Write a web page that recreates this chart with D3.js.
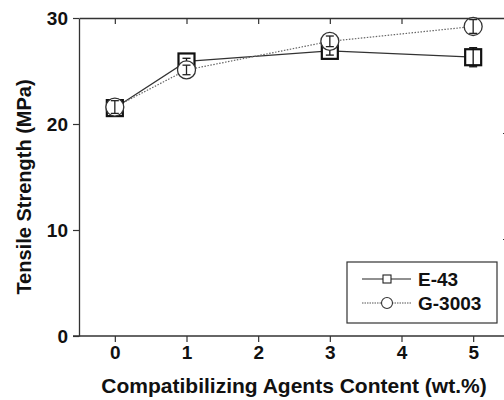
<!DOCTYPE html>
<html>
<head>
<meta charset="utf-8">
<script src="https://cdn.jsdelivr.net/npm/d3@7"></script>
<style>
body{margin:0;background:#fff}
svg text{font-family:"Liberation Sans",Arial,sans-serif;font-weight:bold;fill:#111}
</style>
</head>
<body>
<div id="chart"></div>
<script>
(function(){

// data
var xTicks = [0,1,2,3,4,5]
var yTicks = [0,10,20,30]
var xVals  = [0,1,3,5]
var e43    = [21.5,25.9,26.9,26.3]
var e43Err = [0.7,0.3,0.4,0.9]
var g3003  = [21.6,25.1,27.8,29.2]
var g3003Err = [0.6,0.45,0.5,0.65]
var seriesNames = ["E-43","G-3003"]

var W = 504, H = 400
var svg = d3.select("#chart").append("svg")
	.attr("width",W).attr("height",H)

var x = d3.scaleLinear().domain([-0.5,5.5]).range([79,509])
var y = d3.scaleLinear().domain([0,30]).range([336,18])

var axcol = "#333"
var fmt = d3.format("d")

// bottom axis
var gx = svg.append("g").attr("transform","translate(0,"+y(0)+")")
	.call(d3.axisBottom(x).tickValues(xTicks).tickSize(6).tickSizeOuter(0).tickPadding(4).tickFormat(fmt))
gx.select(".domain").attr("d","M73,0H"+x(5.5))
gx.selectAll("text").style("font-size","19px")

// top axis, ticks inward
var gt = svg.append("g").attr("transform","translate(0,"+y(30)+")")
	.call(d3.axisBottom(x).tickValues(xTicks).tickSize(6).tickSizeOuter(0).tickFormat(""))

// left axis
var gy = svg.append("g").attr("transform","translate("+x(-0.5)+",0)")
	.call(d3.axisLeft(y).tickValues(yTicks).tickSize(6).tickSizeOuter(0).tickPadding(5).tickFormat(fmt))
gy.selectAll("text").style("font-size","19px")

// right axis (scan is a bit skewed, ticks sit slightly lower)
var gr = svg.append("g").attr("transform","translate("+x(5.5)+",9)")
	.call(d3.axisRight(y).tickValues([10,20]).tickSize(-6).tickSizeOuter(0).tickFormat(""))
gr.select(".domain").remove()

svg.selectAll(".domain").attr("stroke",axcol).attr("stroke-width",1.3)
svg.selectAll(".tick line").attr("stroke",axcol).attr("stroke-width",1.2)

// axis titles
svg.append("text").attr("x",294).attr("y",393)
	.attr("text-anchor","middle").style("font-size","21px")
	.text("Compatibilizing Agents Content (wt.%)")

svg.append("text").attr("transform","translate(31,187) rotate(-90)")
	.attr("text-anchor","middle").style("font-size","20px")
	.text("Tensile Strength (MPa)")

// lines
var line = d3.line().x(function(d){return x(d[0])}).y(function(d){return y(d[1])})
var e43pts = xVals.map(function(v,i){return [v,e43[i],e43Err[i]]})
var g3003pts = xVals.map(function(v,i){return [v,g3003[i],g3003Err[i]]})

svg.append("path").datum(e43pts).attr("d",line)
	.attr("fill","none").attr("stroke","#333").attr("stroke-width",1.2)
svg.append("path").datum(g3003pts).attr("d",line)
	.attr("fill","none").attr("stroke","#666").attr("stroke-width",1.2)
	.attr("stroke-dasharray","1.5,1.5")

function errbars(pts,col){
	var g = svg.append("g").attr("stroke",col).attr("stroke-width",1.3)
	pts.forEach(function(d){
		var cx = x(d[0])
		g.append("line").attr("x1",cx).attr("x2",cx).attr("y1",y(d[1]-d[2])).attr("y2",y(d[1]+d[2]))
		g.append("line").attr("x1",cx-4).attr("x2",cx+4).attr("y1",y(d[1]-d[2])).attr("y2",y(d[1]-d[2]))
		g.append("line").attr("x1",cx-4).attr("x2",cx+4).attr("y1",y(d[1]+d[2])).attr("y2",y(d[1]+d[2]))
	})
}

// squares
svg.selectAll(".sq").data(e43pts).enter().append("rect").attr("class","sq")
	.attr("x",function(d){return x(d[0])-8}).attr("y",function(d){return y(d[1])-8})
	.attr("width",16).attr("height",16)
	.attr("fill","#fff").attr("stroke","#111").attr("stroke-width",2.2)
errbars(e43pts,"#111")

// circles
svg.selectAll(".ci").data(g3003pts).enter().append("circle").attr("class","ci")
	.attr("cx",function(d){return x(d[0])}).attr("cy",function(d){return y(d[1])})
	.attr("r",9)
	.attr("fill","#fff").attr("stroke","#333").attr("stroke-width",1.3)
errbars(g3003pts,"#222")

// legend
var leg = svg.append("g")
leg.append("rect").attr("x",347).attr("y",262).attr("width",150).attr("height",61)
	.attr("fill","#fff").attr("stroke","#333").attr("stroke-width",1.2)

var li = leg.selectAll(".li").data(seriesNames).enter().append("g")
	.attr("transform",function(d,i){return "translate(0,"+(279+i*24)+")"})
li.append("line").attr("x1",362).attr("x2",411).attr("y1",0).attr("y2",0)
	.attr("stroke",function(d,i){return i==0?"#222":"#555"})
	.attr("stroke-width",1.1)
	.attr("stroke-dasharray",function(d,i){return i==0?null:"1.5,1"})
li.filter(function(d,i){return i==0}).append("rect")
	.attr("x",383).attr("y",-4).attr("width",8).attr("height",8)
	.attr("fill","#fff").attr("stroke","#222").attr("stroke-width",1.1)
li.filter(function(d,i){return i==1}).append("circle")
	.attr("cx",387).attr("cy",0).attr("r",5.5)
	.attr("fill","#fff").attr("stroke","#333").attr("stroke-width",1.1)
li.append("text").attr("x",418).attr("y",7).style("font-size","19px")
	.text(function(d){return d})

})()
</script>
</body>
</html>
